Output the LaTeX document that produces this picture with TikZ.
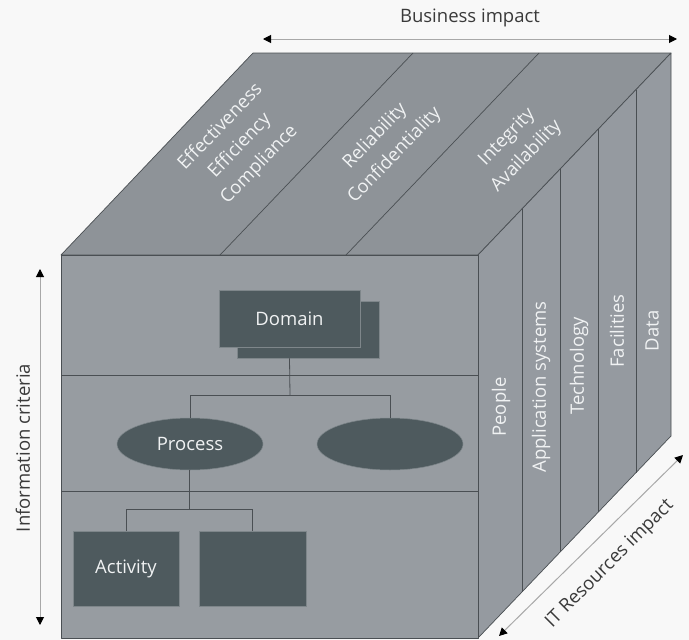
\documentclass[tikz,border=0pt]{standalone}
\usepackage{fontspec}
\setmainfont{Open Sans}
\usetikzlibrary{calc,arrows.meta,shapes.geometric}
\definecolor{bg}{HTML}{F8F8F8}
\definecolor{topc}{HTML}{8E9398}
\definecolor{frontc}{HTML}{979CA1}
\definecolor{rightc}{HTML}{959AA0}
\definecolor{edgec}{HTML}{4A4F53}
\definecolor{boxc}{HTML}{4E5A5E}
\definecolor{boxedge}{HTML}{7E868A}
\definecolor{txtin}{HTML}{F0F2F3}
\definecolor{txtout}{HTML}{3A3A3A}
\definecolor{arrc}{HTML}{A8A8A8}
\tikzset{
  face/.style={draw=edgec, line width=0.7pt, line join=round},
  divider/.style={draw=edgec, line width=0.7pt},
  conn/.style={draw=edgec, line width=0.8pt},
  darkbox/.style={fill=boxc, draw=boxedge, line width=0.5pt, inner sep=0pt, text=txtin, font=\fontsize{18.5}{20}\selectfont},
  darkell/.style={ellipse, fill=boxc, draw=boxedge, line width=0.5pt, inner sep=0pt, text=txtin, font=\fontsize{18.5}{20}\selectfont},
  intext/.style={text=txtin, font=\fontsize{18.5}{27}\selectfont, align=center, inner sep=0pt},
  outtext/.style={text=txtout, font=\fontsize{18.5}{20}\selectfont, inner sep=0pt},
  dimarrow/.style={draw=arrc, line width=1pt, {Triangle[color=black,length=8pt,width=8pt]}-{Triangle[color=black,length=8pt,width=8pt]}}
}
\begin{document}
\begin{tikzpicture}[x=1pt,y=-1pt]
\useasboundingbox (0,0) rectangle (689,640);
\fill[bg] (0,0) rectangle (689,640);
% cube corners
\coordinate (FTL) at (61,255);
\coordinate (FTR) at (478,255);
\coordinate (FBR) at (478,638);
\coordinate (FBL) at (61,638);
\coordinate (BTL) at (253,53);
\coordinate (BTR) at (671,53);
\coordinate (BBR) at (671,436);
% faces
\path[face, fill=topc] (FTL) -- (BTL) -- (BTR) -- (FTR) -- cycle;
\path[face, fill=rightc] (FTR) -- (BTR) -- (BBR) -- (FBR) -- cycle;
\path[face, fill=frontc] (FTL) -- (FTR) -- (FBR) -- (FBL) -- cycle;
% top dividers
\coordinate (T1a) at (220,255); \coordinate (T1b) at (413,53);
\coordinate (T2a) at (346,255); \coordinate (T2b) at (539,53);
\draw[divider] (T1a) -- (T1b);
\draw[divider] (T2a) -- (T2b);
% right dividers
\foreach \t/\n in {0.228/1,0.425/2,0.622/3,0.819/4}{
  \coordinate (R\n a) at ($(FTR)!\t!(BTR)$);
  \coordinate (R\n b) at ($(FBR)!\t!(BBR)$);
  \draw[divider] (R\n a) -- (R\n b);
}
% front dividers
\coordinate (H1a) at (61,375); \coordinate (H1b) at (478,375);
\coordinate (H2a) at (61,491); \coordinate (H2b) at (478,491);
\draw[divider] (H1a) -- (H1b);
\draw[divider] (H2a) -- (H2b);
% top texts
\node[intext, rotate=46] (tx1) at (240,146) {Effectiveness\\Efficiency\\Compliance};
\node[intext, rotate=46] (tx2) at (385,146) {Reliability\\Confidentiality};
\node[intext, rotate=46] (tx3) at (517,147) {Integrity\\Availability};
% right texts
\node[intext, rotate=90] (rp) at (501,407) {People};
\node[intext, rotate=90] (ra) at (541,387) {Application systems};
\node[intext, rotate=90] (rt) at (579,366) {Technology};
\node[intext, rotate=90] (rf) at (617,331) {Facilities};
\node[intext, rotate=90] (rd) at (652,331) {Data};
% connector junctions
\coordinate (j1) at (290,395);
\coordinate (j1l) at (190,395);
\coordinate (j1r) at (390,395);
\coordinate (j2) at (189,509);
\coordinate (j2l) at (126,509);
\coordinate (j2r) at (252.5,509);
% structure nodes
\node[darkbox, minimum width=142pt, minimum height=57pt] (domsh) at (308,329.5) {};
\node[darkbox, minimum width=141pt, minimum height=57pt] (dom) at (289.5,318.5) {Domain};
\node[darkell, minimum width=146pt, minimum height=52pt] (proc) at (190,444) {Process};
\node[darkell, minimum width=146pt, minimum height=52pt] (proc2) at (390,444) {};
\node[darkbox, minimum width=106pt, minimum height=75pt] (act) at (126,568.5) {Activity};
\node[darkbox, minimum width=107pt, minimum height=75pt] (act2) at (252.5,568.5) {};
\draw[conn] (domsh.south -| dom.south) -- (j1);
\draw[conn] (j1l) -- (j1r);
\draw[conn] (j1l) -- (proc.north);
\draw[conn] (j1r) -- (proc2.north);
\draw[conn] (proc.south -| j2) -- (j2);
\draw[conn] (j2l) -- (j2r);
\draw[conn] (j2l) -- (act.north);
\draw[conn] (j2r) -- (act2.north);
% dimension arrows
\coordinate (bA) at (263,39); \coordinate (bB) at (677,39);
\draw[dimarrow] (bA) -- (bB);
\node[outtext] (bt) at (470,18) {Business impact};
\coordinate (iA) at (40,269); \coordinate (iB) at (40,625);
\draw[dimarrow] (iA) -- (iB);
\node[outtext, rotate=90] (it) at (23,448) {Information criteria};
\coordinate (rA) at (499,636); \coordinate (rB) at (683,455);
\draw[dimarrow] (rA) -- (rB);
\node[outtext, rotate=45] (rt2) at (610,564) {IT Resources impact};
\end{tikzpicture}
\end{document}
